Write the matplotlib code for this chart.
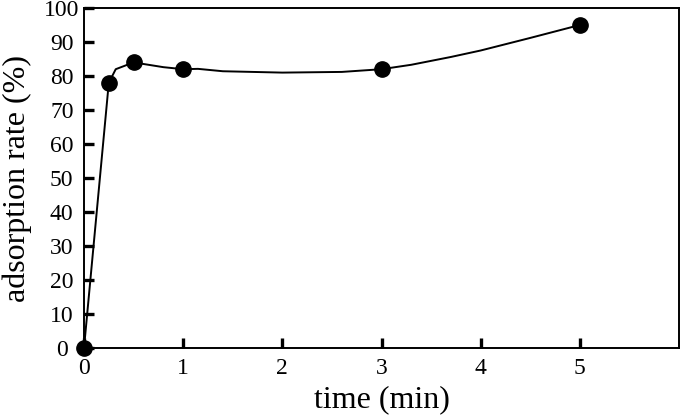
import matplotlib
matplotlib.use("Agg")
import matplotlib.pyplot as plt

plt.rcParams["font.family"] = ["Liberation Serif", "DejaVu Serif"]

# measured points
time_min = [0, 0.25, 0.5, 1, 3, 5]
rate = [0, 78, 84, 82, 82, 95]

# path of the hand-drawn connecting curve
curve_t = [0, 0.25, 0.32, 0.5, 0.8, 1, 1.15, 1.4, 2.0, 2.6, 3, 3.3, 3.7, 4, 4.5, 5]
curve_r = [0, 78, 82, 84, 82.6, 82, 82.1, 81.4, 81.0, 81.2, 82, 83.3, 85.6, 87.5, 91.2, 95]

fig = plt.figure(figsize=(6.8, 4.18), dpi=100)
ax = fig.add_axes([84 / 680, 70 / 418, 595 / 680, 340 / 418])

ax.plot(curve_t, curve_r, color="black", linewidth=1.4, clip_on=False)
ax.plot(time_min, rate, "o", color="black", markersize=11, clip_on=False, zorder=3)

ax.set_xlim(0, 6)
ax.set_ylim(0, 100)
ax.set_xticks([0, 1, 2, 3, 4, 5])
ax.set_yticks(range(0, 101, 10))
ax.tick_params(direction="in", length=7, width=2.4, labelsize=17)
ax.tick_params(axis="y", pad=16)
ax.tick_params(axis="x", pad=7)
for lab in ax.get_yticklabels():
    lab.set_horizontalalignment("center")
for s in ax.spines.values():
    s.set_linewidth(1.4)

ax.set_xlabel("time (min)", fontsize=23, labelpad=5)
ax.set_ylabel("adsorption rate (%)", fontsize=23, labelpad=9)

fig.savefig("out.png", dpi=100)
